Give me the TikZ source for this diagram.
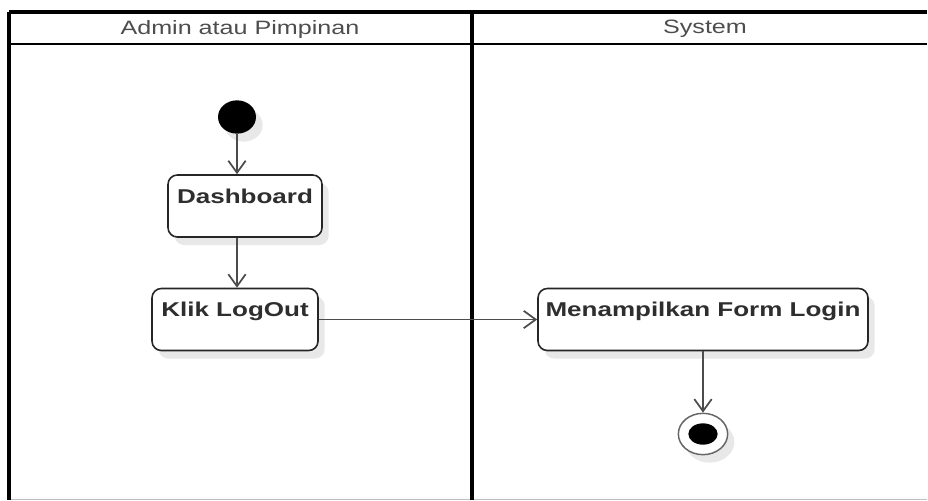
\documentclass[tikz,border=0pt]{standalone}
\usepackage{fontspec}
\setmainfont{Liberation Sans}[FakeStretch=1.3]
\usepackage{xcolor}
\usetikzlibrary{shapes.geometric,arrows.meta,shadows}
\definecolor{lanegray}{HTML}{4D4D4D}
\definecolor{inkgray}{HTML}{2E2E2E}

\begin{document}
\begin{tikzpicture}[x=0.75pt,y=-0.75pt,
  softshadow/.style={drop shadow={shadow xshift=5pt,shadow yshift=-6pt,fill=black!9,opacity=1}},
  action/.style={draw=black!85, line width=1.2pt, rounded corners=7pt, fill=white,
    inner sep=4pt, text height=17pt, text depth=21.5pt, minimum height=46.5pt,
    font=\fontsize{15}{18}\selectfont\bfseries, text=inkgray, softshadow},
  flow/.style={draw=black!70, line width=1.3pt, -{Straight Barb[length=9pt,width=13pt]}},
  lane/.style={font=\fontsize{14.5}{17}\selectfont, text=lanegray}]
             \useasboundingbox (0,0) rectangle (928,500);

             % swimlanes
             \draw[black!25] (9,499) -- (927,499);
             \draw[line width=1.4pt] (9,44) -- (927,44);
             \draw[line width=2.4pt] (9,12) -- (927,12);
             \draw[line width=2.4pt] (9,12) -- (9,500);
             \draw[line width=2.6pt] (472,12) -- (472,500);
             \node[lane] (admin) at (240,29) {Admin atau Pimpinan};
             \node[lane] (system) at (705,29) {System};

             \node[ellipse, fill=black, minimum width=28.5pt, minimum height=25pt, inner sep=0pt, softshadow] (start) at (237,117) {};

             \node[action, minimum width=115.5pt] (dashboard) at (245,206) {Dashboard};
             \node[action, minimum width=124.5pt] (klik) at (235,319.5) {Klik LogOut};
             \node[action, minimum width=247.5pt] (menu) at (703,319.5) {Menampilkan Form Login};

             \node[ellipse, draw=black!60, line width=1.1pt, fill=white, minimum width=37pt, minimum height=31pt, inner sep=0pt, softshadow] (finish) at (703,434) {};
             \node[ellipse, fill=black, minimum width=22pt, minimum height=16pt, inner sep=0pt] (finishdot) at (finish) {};

             \draw[flow] (start) -- (start |- dashboard.north);
             \draw[flow] (dashboard.south -| start) -- (start |- klik.north);
             \draw[flow] (klik) -- (menu);
             \draw[flow] (menu) -- (finish);
\end{tikzpicture}
\end{document}
